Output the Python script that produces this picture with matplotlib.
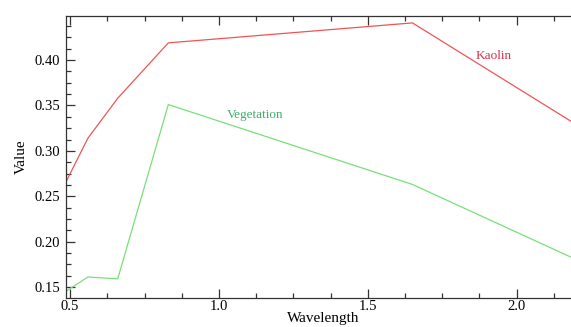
import numpy as np
import matplotlib.pyplot as plt
from matplotlib.ticker import MultipleLocator

# Landsat TM band centres (micrometres)
wavelength = [0.485, 0.56, 0.66, 0.83, 1.65, 2.215]
kaolin = [0.265, 0.314, 0.358, 0.419, 0.441, 0.326]
vegetation = [0.145, 0.161, 0.159, 0.351, 0.263, 0.178]

plt.rcParams['font.family'] = ['Liberation Serif', 'DejaVu Serif']

fig = plt.figure(figsize=(5.71, 3.27), dpi=100)
ax = fig.add_axes([0.1149, 0.0896, 0.902, 0.862])

ax.plot(wavelength, kaolin, color='#ee5555', lw=0.9)
ax.plot(wavelength, vegetation, color='#77e077', lw=0.9)

ax.text(1.924, 0.4044, 'Kaolin', color='#d8304a', fontsize=9.5,
        ha='center', va='center')
ax.text(1.1225, 0.3394, 'Vegetation', color='#3fae6a', fontsize=9.5,
        ha='center', va='center')

ax.set_xlim(0.485, 2.215)
ax.set_ylim(0.1382, 0.4488)

ax.xaxis.set_major_locator(MultipleLocator(0.5))
ax.xaxis.set_minor_locator(MultipleLocator(0.125))
ax.yaxis.set_major_locator(MultipleLocator(0.05))
ax.yaxis.set_minor_locator(MultipleLocator(0.0125))
ax.xaxis.set_major_formatter(plt.FuncFormatter(lambda v, p: f'{v:.1f}'))
ax.yaxis.set_major_formatter(plt.FuncFormatter(lambda v, p: f'{v:.2f}'))

ax.tick_params(which='both', direction='in', top=True, right=True,
               colors='#333333', labelcolor='black', labelsize=10.5, width=0.9)
ax.tick_params(which='major', length=6.5)
ax.tick_params(which='minor', length=3.5)
ax.tick_params(axis='x', pad=2)
ax.tick_params(axis='y', pad=4)

for sp in ax.spines.values():
    sp.set_color('#333333')
    sp.set_linewidth(0.9)

ax.set_xlabel('Wavelength', fontsize=11, labelpad=-1)
ax.set_ylabel('Value', fontsize=11, labelpad=5)

fig.savefig('out.png', dpi=100)
